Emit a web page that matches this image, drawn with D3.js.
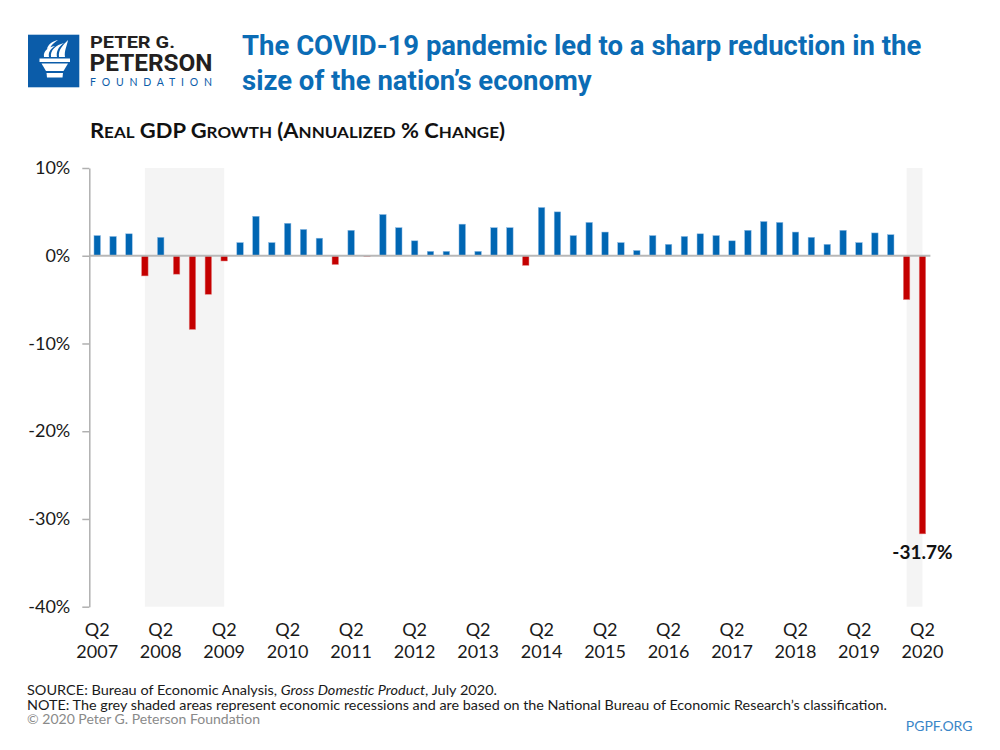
<!DOCTYPE html>
<html><head><meta charset="utf-8">
<script src="https://cdn.jsdelivr.net/npm/d3@7"></script>
<style>body{margin:0;background:#fff} svg{display:block}</style>
</head><body><svg id="c" width="1000" height="750"></svg>
<script>
const quarters = ["2007Q2","2007Q3","2007Q4",
"2008Q1","2008Q2","2008Q3","2008Q4",
"2009Q1","2009Q2","2009Q3","2009Q4",
"2010Q1","2010Q2","2010Q3","2010Q4",
"2011Q1","2011Q2","2011Q3","2011Q4",
"2012Q1","2012Q2","2012Q3","2012Q4",
"2013Q1","2013Q2","2013Q3","2013Q4",
"2014Q1","2014Q2","2014Q3","2014Q4",
"2015Q1","2015Q2","2015Q3","2015Q4",
"2016Q1","2016Q2","2016Q3","2016Q4",
"2017Q1","2017Q2","2017Q3","2017Q4",
"2018Q1","2018Q2","2018Q3","2018Q4",
"2019Q1","2019Q2","2019Q3","2019Q4",
"2020Q1","2020Q2"];
const growth = [2.3,2.2,2.5,
-2.3,2.1,-2.1,-8.4,
-4.4,-0.6,1.5,4.5,
1.5,3.7,3.0,2.0,
-1.0,2.9,-0.1,4.7,
3.2,1.7,0.5,0.5,
3.6,0.5,3.2,3.2,
-1.1,5.5,5.0,2.3,
3.8,2.7,1.5,0.6,
2.3,1.3,2.2,2.5,
2.3,1.7,2.9,3.9,
3.8,2.7,2.1,1.3,
2.9,1.5,2.6,2.4,
-5.0,-31.7];
const xTickQuarters = ["2007Q2","2008Q2","2009Q2","2010Q2","2011Q2","2012Q2","2013Q2","2014Q2","2015Q2","2016Q2","2017Q2","2018Q2","2019Q2","2020Q2"];
const yTicks = [10,0,-10,-20,-30,-40];
const recessions = [["2008Q1","2009Q2"],["2020Q1","2020Q2"]];
const annotation = {q:"2020Q2", text:"-31.7%"};

const svg = d3.select("#c");
const bodyFont = "Lato, 'Open Sans', sans-serif";
const condFont = "'Liberation Sans Narrow', 'Roboto', sans-serif";

const x = d3.scaleBand().domain(quarters).range([89.3, 930.4]).paddingInner(0.59).paddingOuter(0.295);
const y = d3.scaleLinear().domain([-40, 10]).range([606.7, 168]);
const bw = x.bandwidth();
const cx = q => x(q) + bw/2;

// ---- Logo ----
const logo = svg.append("g");
logo.append("rect").attr("x",28).attr("y",34.7).attr("width",51.3).attr("height",52.6).attr("fill","#0b5ca9");
const torch = logo.append("g").attr("fill","#fff");
torch.append("path").attr("d","M39.5 58.5 L70 58.5 L70 62 L39.5 62 Z");
torch.append("path").attr("d","M41.5 63.5 L68 63.5 L63.5 71 L46 71 Z");
torch.append("path").attr("d","M46.5 73 L63 73 L62.5 77.5 L47 77.5 Z");
torch.append("path").attr("d","M44 57 C43 51 48 47 55 46 C50 49 48 53 49 57 Z");
torch.append("path").attr("d","M51 57 C50 50 56 45 64 43 C58 47 56 52 57 57 Z");
torch.append("path").attr("d","M59 57 C58 50 63 45 68 40 C67 46 64 51 65 57 Z");
torch.append("path").attr("d","M47 49 C48 44 53 41 58 40 C54 43 51 45 50 48 Z");
logo.append("text").attr("x",90).attr("y",47.5).attr("font-family",condFont).attr("font-weight",700)
  .attr("font-size",16).attr("fill","#231f20").attr("textLength",85).attr("lengthAdjust","spacingAndGlyphs").text("PETER G.");
logo.append("text").attr("x",89.5).attr("y",70.7).attr("font-family",condFont).attr("font-weight",700)
  .attr("font-size",24).attr("fill","#231f20").attr("textLength",123).attr("lengthAdjust","spacingAndGlyphs").text("PETERSON");
logo.append("text").attr("x",90).attr("y",85.5).attr("font-family",bodyFont).attr("font-weight",400)
  .attr("font-size",10.5).attr("fill","#0b5ca9").attr("textLength",122).attr("lengthAdjust","spacing").text("FOUNDATION");

// ---- Title ----
const title = svg.append("text").attr("font-family",condFont).attr("font-weight",700)
  .attr("font-size",27.5).attr("fill","#0b6cb5");
title.append("tspan").attr("x",242).attr("y",55).text("The COVID-19 pandemic led to a sharp reduction in the");
title.append("tspan").attr("x",242).attr("y",90).text("size of the nation\u2019s economy");

// ---- Subtitle (small caps) ----
const sub = svg.append("text").attr("x",90).attr("y",138).attr("font-family",bodyFont)
  .attr("font-weight",700).attr("fill","#111").attr("textLength",415).attr("lengthAdjust","spacingAndGlyphs");
const subStr = "Real GDP Growth (Annualized % Change)";
let buf = "", bufSmall = null;
function flush(){ if(buf){ sub.append("tspan").attr("font-size", bufSmall?15.5:20).text(buf); buf=""; } }
for (const ch of subStr){
  const small = ch >= "a" && ch <= "z";
  if (bufSmall !== null && small !== bufSmall) flush();
  bufSmall = small; buf += small ? ch.toUpperCase() : ch;
}
flush();

// ---- Recession shading ----
svg.append("g").selectAll("rect").data(recessions).join("rect")
  .attr("x", d => cx(d[0])).attr("width", d => cx(d[1]) - cx(d[0]))
  .attr("y", y(10)).attr("height", y(-40) - y(10)).attr("fill","#f4f4f4");

// ---- Bars ----
svg.append("g").selectAll("rect").data(quarters).join("rect")
  .attr("x", d => x(d)).attr("width", bw)
  .attr("y", (d,i) => y(Math.max(0, growth[i])))
  .attr("height", (d,i) => Math.abs(y(growth[i]) - y(0)))
  .attr("fill", (d,i) => growth[i] >= 0 ? "#0066b3" : "#c40000")
  .attr("stroke", (d,i) => growth[i] >= 0 ? "#8fbbe3" : "#e58a8a").attr("stroke-width",0.5);

// ---- Zero line ----
svg.append("line").attr("x1",89.3).attr("x2",930.4).attr("y1",y(0)).attr("y2",y(0))
  .attr("stroke","#b8b8b8").attr("stroke-width",2);

// ---- Y axis ----
const yAxis = svg.append("g").attr("transform","translate(89.3,0)")
  .call(d3.axisLeft(y).tickValues(yTicks).tickSize(7).tickSizeOuter(0).tickPadding(12).tickFormat(d => d + "%"));
yAxis.select(".domain").attr("stroke","#b0b0b0").attr("stroke-width",1.5);
yAxis.selectAll(".tick line").attr("stroke","#b0b0b0").attr("stroke-width",1.5);
yAxis.selectAll(".tick text").attr("font-family",bodyFont).attr("font-size",18).attr("fill","#1a1a1a");

// ---- X labels ----
const xl = svg.append("g").selectAll("text").data(xTickQuarters).join("text")
  .attr("text-anchor","middle").attr("font-family",bodyFont).attr("font-size",18).attr("fill","#1a1a1a");
xl.append("tspan").attr("x", d => cx(d)).attr("y",636).text(d => d.slice(4));
xl.append("tspan").attr("x", d => cx(d)).attr("y",658).text(d => d.slice(0,4));

// ---- Annotation ----
svg.append("text").attr("x", cx(annotation.q)).attr("y",559).attr("text-anchor","middle")
  .attr("font-family",bodyFont).attr("font-weight",700).attr("font-size",19).attr("fill","#111")
  .text(annotation.text);

// ---- Footer ----
const src = svg.append("text").attr("x",27).attr("y",695).attr("font-family",bodyFont).attr("font-size",13.5).attr("fill","#1a1a1a")
  .attr("textLength",470).attr("lengthAdjust","spacingAndGlyphs");
src.append("tspan").text("SOURCE: Bureau of Economic Analysis, ");
src.append("tspan").attr("font-style","italic").text("Gross Domestic Product");
src.append("tspan").text(", July 2020.");
svg.append("text").attr("x",27).attr("y",709.5).attr("font-family",bodyFont).attr("font-size",13.5).attr("fill","#1a1a1a")
  .attr("textLength",860).attr("lengthAdjust","spacingAndGlyphs")
  .text("NOTE: The grey shaded areas represent economic recessions and are based on the National Bureau of Economic Research\u2019s classification.");
svg.append("text").attr("x",27).attr("y",724).attr("font-family",bodyFont).attr("font-size",13.5).attr("fill","#8a8a8a")
  .attr("textLength",233).attr("lengthAdjust","spacingAndGlyphs")
  .text("\u00a9 2020 Peter G. Peterson Foundation");
svg.append("text").attr("x",972.5).attr("y",731).attr("text-anchor","end").attr("font-family",bodyFont).attr("font-size",14).attr("fill","#3a86c8")
  .text("PGPF.ORG");
</script></body></html>
